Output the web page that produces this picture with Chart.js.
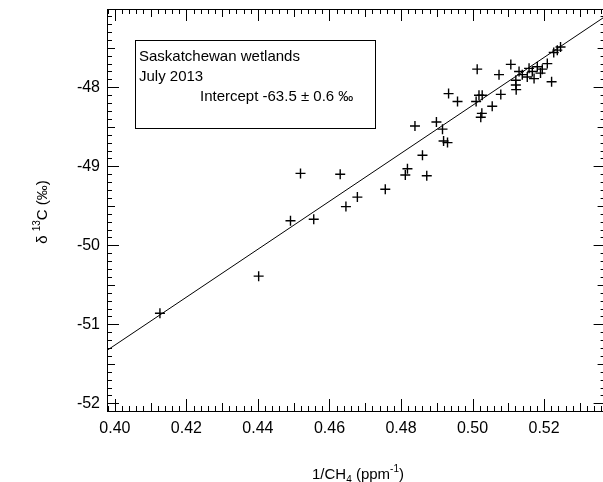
<!DOCTYPE html>
<html>
<head>
<meta charset="utf-8">
<script src="https://cdn.jsdelivr.net/npm/chart.js@4"></script>
<style>
  html, body { margin: 0; padding: 0; background: #fff; overflow: hidden; }
  #wrap { width: 603px; height: 482px; overflow: hidden; position: relative; }
  canvas { display: block; }
</style>
</head>
<body>
<div id="wrap"><canvas id="chart" width="612" height="482"></canvas></div>
<script>
// 1/CH4 (ppm^-1) and delta13C (permil)
const invCH4 = [
  0.4126, 0.4402, 0.4491, 0.4519, 0.4556, 0.4630, 0.4646, 0.4678, 0.4756, 0.4812,
  0.4818, 0.4872, 0.4860, 0.4839, 0.4899, 0.4916, 0.4919, 0.4930, 0.4933, 0.4958,
  0.5010, 0.5026, 0.5023, 0.5055, 0.5013, 0.5018, 0.5027, 0.5074, 0.5079, 0.5107,
  0.5121, 0.5122, 0.5121, 0.5130, 0.5139, 0.5153, 0.5158, 0.5167, 0.5172, 0.5181,
  0.5190, 0.5195, 0.5209, 0.5221, 0.5227, 0.5237, 0.5246
];
const d13C = [
  -50.86, -50.39, -49.69, -49.09, -49.67, -49.10, -49.51, -49.39, -49.29, -49.11,
  -49.03, -49.12, -48.86, -48.49, -48.44, -48.53, -48.68, -48.70, -48.08, -48.18,
  -48.18, -48.33, -48.38, -48.24, -47.77, -48.10, -48.10, -47.84, -48.09, -47.71,
  -47.97, -48.03, -47.91, -47.80, -47.84, -47.87, -47.76, -47.80, -47.89, -47.74,
  -47.82, -47.77, -47.70, -47.93, -47.56, -47.53, -47.49
];

// regression line end points
const fitX = [0.3978, 0.5372];
const fitY = [-51.33, -47.10];

const xTicks = [0.40, 0.42, 0.44, 0.46, 0.48, 0.50, 0.52];
const yTicks = [-52, -51, -50, -49, -48];

const boxLines = ["Saskatchewan wetlands", "July 2013", "Intercept -63.5 \u00b1 0.6 \u2030"];

const FONT = "'Liberation Sans', Arial, sans-serif";

const framePlugin = {
  id: "frame",
  afterDraw(chart) {
    const ctx = chart.ctx;
    const a = chart.chartArea;
    const xs = chart.scales.x;
    const ys = chart.scales.y;
    ctx.save();
    ctx.strokeStyle = "#000";
    ctx.lineWidth = 1;

    // frame
    ctx.strokeRect(Math.round(a.left) + 0.5, Math.round(a.top) + 0.5,
      Math.round(a.right - a.left), Math.round(a.bottom - a.top));

    // x ticks (bottom + top, pointing in)
    ctx.beginPath();
    for (let k = 199; k <= 268; k++) {
      const v = k * 0.002;
      if (v < xs.min || v > xs.max) continue;
      const len = k % 10 === 0 ? 12 : (k % 5 === 0 ? 8 : 5);
      const px = Math.round(xs.getPixelForValue(v)) + 0.5;
      ctx.moveTo(px, a.bottom);
      ctx.lineTo(px, a.bottom - len);
      ctx.moveTo(px, a.top);
      ctx.lineTo(px, a.top + len);
    }
    // y ticks (left + right, pointing in)
    for (let k = -521; k <= -470; k++) {
      const v = k / 10;
      if (v < ys.min || v > ys.max) continue;
      const len = k % 10 === 0 ? 12 : (k % 5 === 0 ? 8 : 5);
      const py = Math.round(ys.getPixelForValue(v)) + 0.5;
      ctx.moveTo(a.left, py);
      ctx.lineTo(a.left + len, py);
      ctx.moveTo(a.right, py);
      ctx.lineTo(a.right - len, py);
    }
    ctx.stroke();

    // annotation box
    ctx.strokeRect(135.5, 40.5, 240, 88);
    ctx.fillStyle = "#000";
    ctx.font = "15px " + FONT;
    ctx.textAlign = "left";
    ctx.textBaseline = "alphabetic";
    ctx.fillText(boxLines[0], 139, 61);
    ctx.fillText(boxLines[1], 139, 81);
    ctx.fillText(boxLines[2], 200, 101);

    // x axis title: 1/CH4 (ppm-1)
    const big = "15px " + FONT;
    const small = "10px " + FONT;
    const xParts = [
      ["1/CH", big, 0], ["4", small, 4], [" (ppm", big, 0], ["-1", small, -7], [")", big, 0]
    ];
    drawParts(ctx, xParts, 358, 479);

    // y axis title: delta 13C (permil), rotated
    ctx.translate(47, 212);
    ctx.rotate(-Math.PI / 2);
    const yParts = [
      ["\u03b4 ", big, 0], ["13", small, -7], ["C (\u2030)", big, 0]
    ];
    drawParts(ctx, yParts, 0, 0);
    ctx.restore();
  }
};

function drawParts(ctx, parts, cx, baseY) {
  let total = 0;
  parts.forEach(p => { ctx.font = p[1]; total += ctx.measureText(p[0]).width; });
  let x = cx - total / 2;
  ctx.textAlign = "left";
  parts.forEach(p => {
    ctx.font = p[1];
    ctx.fillText(p[0], x, baseY + p[2]);
    x += ctx.measureText(p[0]).width;
  });
}

const points = invCH4.map((x, i) => ({ x: x, y: d13C[i] }));
const fitLine = fitX.map((x, i) => ({ x: x, y: fitY[i] }));

new Chart(document.getElementById("chart"), {
  type: "scatter",
  data: {
    datasets: [
      {
        label: "fit",
        data: fitLine,
        showLine: true,
        borderColor: "#000",
        borderWidth: 1,
        pointRadius: 0,
        fill: false,
      },
      {
        label: "samples",
        data: points,
        pointStyle: "cross",
        pointRadius: 5,
        borderColor: "#000",
        borderWidth: 1.4,
        backgroundColor: "#000",
      },
    ],
  },
  options: {
    responsive: false,
    animation: false,
    devicePixelRatio: 1,
    layout: { padding: { top: 9, right: 5, left: 0, bottom: 0 } },
    plugins: {
      legend: { display: false },
      tooltip: { enabled: false },
    },
    scales: {
      x: {
        type: "linear",
        min: 0.3978,
        max: 0.5372,
        grid: { display: false, drawTicks: false },
        border: { display: false },
        afterFit: (s) => { s.height = 71; s.paddingLeft = 0; s.paddingRight = 0; },
        afterBuildTicks: (s) => { s.ticks = xTicks.map(v => ({ value: v })); },
        ticks: {
          padding: 8,
          color: "#000",
          font: { family: FONT, size: 16 },
          callback: (v) => Number(v).toFixed(2),
        },
      },
      y: {
        type: "linear",
        min: -52.097,
        max: -47.009,
        grid: { display: false, drawTicks: false },
        border: { display: false },
        afterFit: (s) => { s.width = 107; s.paddingTop = 0; s.paddingBottom = 0; },
        afterBuildTicks: (s) => { s.ticks = yTicks.map(v => ({ value: v })); },
        ticks: {
          padding: 7,
          color: "#000",
          font: { family: FONT, size: 16 },
          callback: (v) => String(v),
        },
      },
    },
  },
  plugins: [framePlugin],
});
</script>
</body>
</html>
